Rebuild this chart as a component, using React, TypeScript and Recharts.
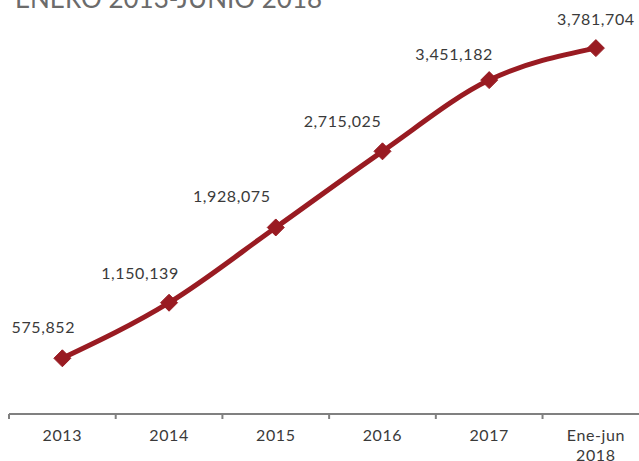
import React from "react";
import { LineChart, Line, XAxis, YAxis, LabelList } from "recharts";

const categorias = ["2013", "2014", "2015", "2016", "2017", "Ene-jun 2018"];
const valores = [575852, 1150139, 1928075, 2715025, 3451182, 3781704];
const titulo = "ENERO 2013-JUNIO 2018";

// desplazamiento de cada etiqueta respecto al punto (px)
const labelOffsets: [number, number][] = [
  [-19, -25],
  [-29, -24],
  [-44, -25],
  [-40, -24],
  [-35, -20],
  [0, -23],
];

const W = 639;
const H = 461;
const AXIS_H = 47;
const M = { top: 27, right: 0, bottom: 0, left: 9 };
const X_DOMAIN: [number, number] = [-0.5, 5.404];
const PX_PER_CAT = (W - M.left - M.right) / (X_DOMAIN[1] - X_DOMAIN[0]);
const AXIS_Y = H - AXIS_H;
const RED = "#991b22";
const FONT = "Lato, 'Open Sans', sans-serif";

const chartData = categorias.map((c, i) => ({ idx: i, categoria: c, valor: valores[i] }));

const fmt = (v: number) => v.toLocaleString("en-US");

const Diamond = (props: any) => {
  const { cx, cy } = props;
  if (cx == null || cy == null) return null;
  const r = 8.5;
  return (
    <polygon
      points={`${cx},${cy - r} ${cx + r},${cy} ${cx},${cy + r} ${cx - r},${cy}`}
      fill={RED}
      stroke={RED}
      strokeWidth={1}
      strokeLinejoin="round"
    />
  );
};

const CatTick = (props: any) => {
  const { x, payload } = props;
  const label = categorias[payload.value] ?? "";
  const lines = label.startsWith("Ene-jun") ? ["Ene-jun", "2018"] : [label];
  const left = x - PX_PER_CAT / 2;
  return (
    <g>
      <line x1={left} y1={AXIS_Y} x2={left} y2={AXIS_Y + 5} stroke="#808080" strokeWidth={2} />
      <text x={x} y={AXIS_Y + 27} textAnchor="middle" fontFamily={FONT} fontSize={16} fill="#3a3a3a" letterSpacing={0.6}>
        {lines.map((l, i) => (
          <tspan key={i} x={x} dy={i === 0 ? 0 : 20}>
            {l}
          </tspan>
        ))}
      </text>
    </g>
  );
};

const ValueLabel = (props: any) => {
  const { x, y, value, index } = props;
  const [dx, dy] = labelOffsets[index] ?? [0, -20];
  return (
    <text x={x + dx} y={y + dy} textAnchor="middle" fontFamily={FONT} fontSize={16} fill="#3a3a3a" letterSpacing={0.6}>
      {fmt(value)}
    </text>
  );
};

export default function App() {
  return (
    <div style={{ position: "absolute", left: 0, top: 0, width: W, height: H, background: "#fff" }}>
      <svg width={W} height={20} style={{ position: "absolute", left: 0, top: 0 }}>
        <text x={15} y={8} fontFamily={FONT} fontSize={26} fill="#6b6b6b">
          {titulo}
        </text>
      </svg>
      <LineChart width={W} height={H} data={chartData} margin={M}>
        <XAxis
          dataKey="idx"
          type="number"
          domain={X_DOMAIN}
          ticks={[0, 1, 2, 3, 4, 5]}
          allowDataOverflow
          tickLine={false}
          axisLine={{ stroke: "#808080", strokeWidth: 2 }}
          tick={<CatTick />}
          interval={0}
          height={AXIS_H}
        />
        <YAxis type="number" domain={[0, 4000000]} hide />
        <Line
          dataKey="valor"
          type="monotone"
          stroke={RED}
          strokeWidth={5}
          dot={<Diamond />}
          activeDot={false}
          isAnimationActive={false}
        >
          <LabelList dataKey="valor" content={<ValueLabel />} />
        </Line>
      </LineChart>
    </div>
  );
}
